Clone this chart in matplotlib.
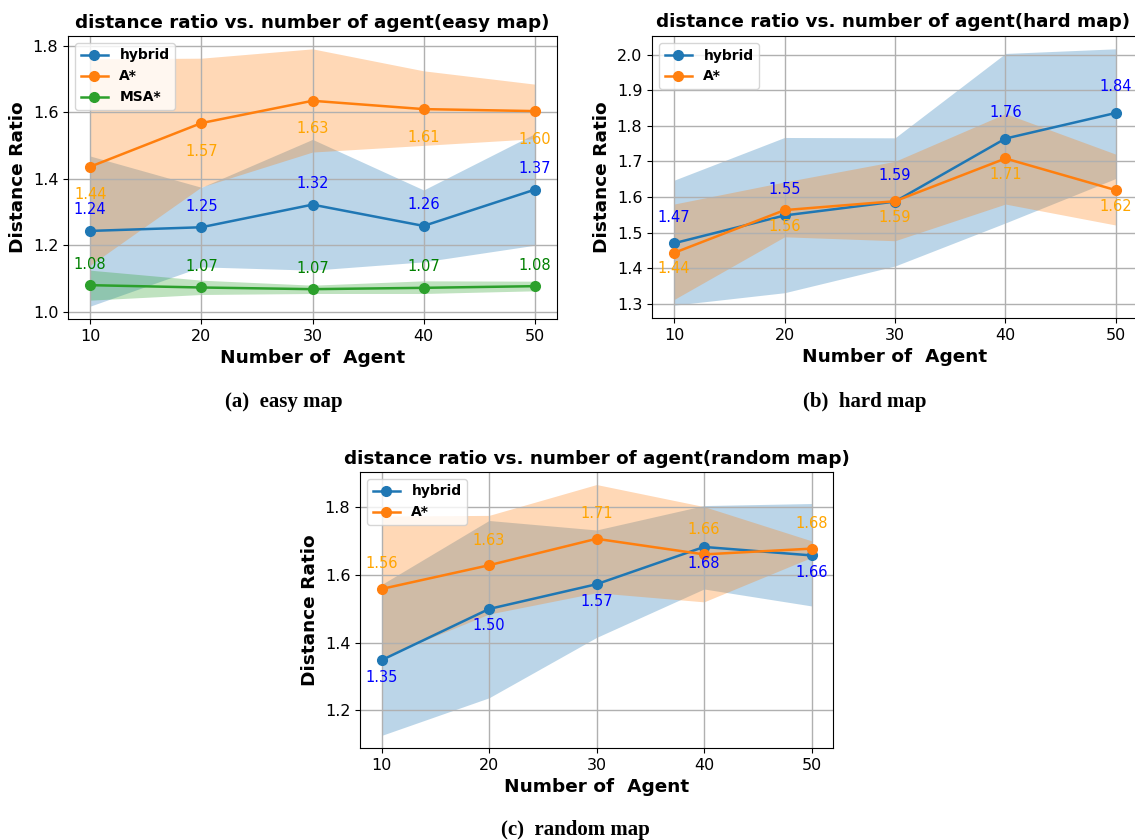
import matplotlib.pyplot as plt

agents = [10, 20, 30, 40, 50]

# easy map
easy_hybrid = [1.243, 1.254, 1.322, 1.258, 1.367]
easy_hybrid_lo = [1.017, 1.135, 1.125, 1.150, 1.200]
easy_hybrid_hi = [1.468, 1.374, 1.518, 1.366, 1.535]
easy_astar = [1.436, 1.567, 1.634, 1.609, 1.603]
easy_astar_lo = [1.140, 1.375, 1.480, 1.500, 1.520]
easy_astar_hi = [1.760, 1.762, 1.790, 1.724, 1.684]
easy_msa = [1.080, 1.073, 1.068, 1.072, 1.077]
easy_msa_lo = [1.035, 1.052, 1.055, 1.055, 1.063]
easy_msa_hi = [1.125, 1.095, 1.080, 1.093, 1.092]

# hard map
hard_hybrid = [1.470, 1.548, 1.587, 1.764, 1.836]
hard_hybrid_lo = [1.296, 1.331, 1.406, 1.527, 1.652]
hard_hybrid_hi = [1.647, 1.767, 1.766, 2.003, 2.016]
hard_astar = [1.443, 1.563, 1.588, 1.708, 1.619]
hard_astar_lo = [1.312, 1.488, 1.477, 1.580, 1.521]
hard_astar_hi = [1.580, 1.642, 1.700, 1.834, 1.720]

# random map
rand_hybrid = [1.348, 1.499, 1.572, 1.682, 1.657]
rand_hybrid_lo = [1.126, 1.237, 1.415, 1.558, 1.508]
rand_hybrid_hi = [1.571, 1.760, 1.732, 1.804, 1.810]
rand_astar = [1.558, 1.628, 1.706, 1.660, 1.677]
rand_astar_lo = [1.355, 1.484, 1.547, 1.520, 1.651]
rand_astar_hi = [1.773, 1.775, 1.866, 1.801, 1.700]

W, H = 1135, 840
fig = plt.figure(figsize=(W / 100, H / 100), dpi=100)


def box(l, r, t, b):
    return [l / W, 1 - b / H, (r - l) / W, (b - t) / H]


def panel(rect, title, series):
    ax = fig.add_axes(rect)
    for name, y, lo, hi, col, tcol, off in series:
        ax.plot(agents, y, marker="o", color=col, label=name, markersize=7, linewidth=1.8)
        ax.fill_between(agents, lo, hi, color=col, alpha=0.3, linewidth=0)
        for xv, yv in zip(agents, y):
            ax.annotate(f"{yv:.2f}", (xv, yv), xytext=(0, off), textcoords="offset pixels",
                        ha="center", va="center", color=tcol, fontsize=10.5)
    ax.set_title(title, fontsize=13.2, fontweight="bold")
    ax.set_xlabel("Number of  Agent", fontsize=13.3, fontweight="bold")
    ax.set_ylabel("Distance Ratio", fontsize=13.3, fontweight="bold")
    ax.set_xticks(agents)
    ax.tick_params(labelsize=11.5)
    ax.grid(True, color="#b0b0b0", linewidth=1)
    ax.legend(loc="upper left", prop={"weight": "bold", "size": 10})
    return ax


panel(box(68, 557, 36, 319), "distance ratio vs. number of agent(easy map)", [
    ("hybrid", easy_hybrid, easy_hybrid_lo, easy_hybrid_hi, "C0", "blue", 21),
    ("A*", easy_astar, easy_astar_lo, easy_astar_hi, "C1", "orange", -28),
    ("MSA*", easy_msa, easy_msa_lo, easy_msa_hi, "C2", "green", 21),
])
ax_b = panel(box(652, 1138, 36, 318), "", [
    ("hybrid", hard_hybrid, hard_hybrid_lo, hard_hybrid_hi, "C0", "blue", 26),
    ("A*", hard_astar, hard_astar_lo, hard_astar_hi, "C1", "orange", -16),
])
# title of the cut-off panel, centred on the visible part
fig.text(893 / W, 1 - 22 / H, "distance ratio vs. number of agent(hard map)",
         fontsize=13.2, fontweight="bold", ha="center", va="center")
panel(box(360, 833, 472, 748), "distance ratio vs. number of agent(random map)", [
    ("hybrid", rand_hybrid, rand_hybrid_lo, rand_hybrid_hi, "C0", "blue", -17),
    ("A*", rand_astar, rand_astar_lo, rand_astar_hi, "C1", "orange", 25),
])

cap = dict(fontsize=15, fontweight="bold", family="Liberation Serif", ha="center", va="center")
fig.text(284 / W, 1 - 402 / H, "(a)  easy map", **cap)
fig.text(865 / W, 1 - 402 / H, "(b)  hard map", **cap)
fig.text(575 / W, 1 - 830 / H, "(c)  random map", **cap)

fig.savefig("out.png", dpi=100)
